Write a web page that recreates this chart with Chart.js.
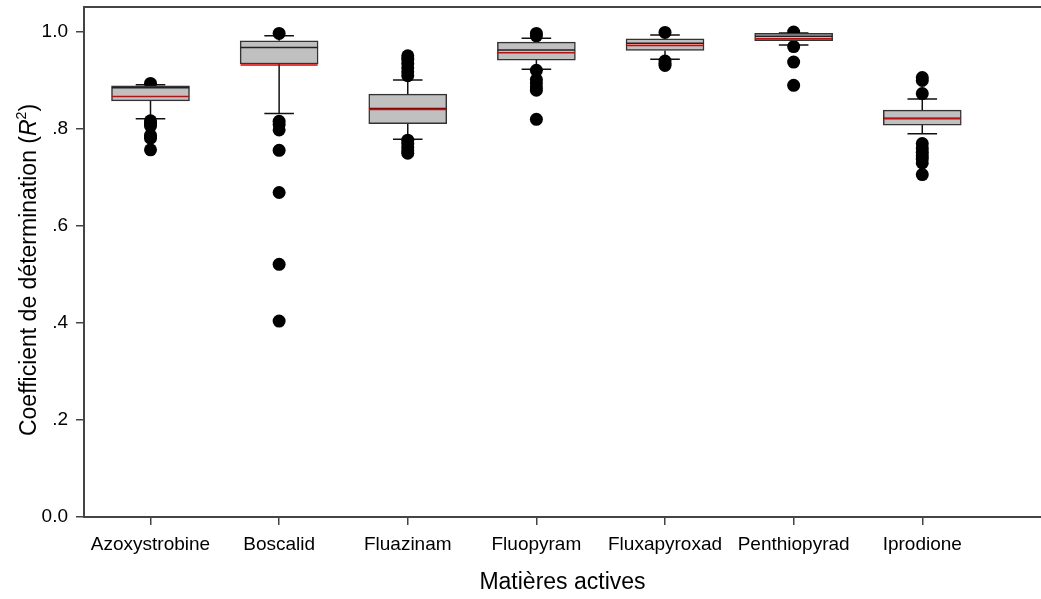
<!DOCTYPE html>
<html>
<head>
<meta charset="utf-8">
<script src="https://cdn.jsdelivr.net/npm/chart.js@4.4.0/dist/chart.umd.min.js"></script>
<style>
  html, body { margin: 0; padding: 0; background: #fff; }
  #wrap { width: 1041px; height: 599px; }
</style>
</head>
<body>
<div id="wrap"><canvas id="myChart"></canvas></div>
<script>
// données
const categories = ['Azoxystrobine', 'Boscalid', 'Fluazinam', 'Fluopyram', 'Fluxapyroxad', 'Penthiopyrad', 'Iprodione'];
const q1 = [0.858, 0.934, 0.811, 0.942, 0.962, 0.982, 0.808];
const q3 = [0.889, 0.982, 0.872, 0.979, 0.986, 0.997, 0.839];
const medians = [0.885, 0.968, 0.842, 0.963, 0.977, 0.991, 0.822];
const means = [0.867, 0.932, 0.840, 0.957, 0.972, 0.986, 0.821];
const whiskerLow = [0.821, 0.832, 0.779, 0.923, 0.944, 0.973, 0.790];
const whiskerHigh = [0.891, 0.992, 0.901, 0.987, 0.994, 0.998, 0.862];
const outliers = [
  [0.894, 0.817, 0.812, 0.806, 0.787, 0.781, 0.757],
  [0.997, 0.816, 0.809, 0.798, 0.756, 0.669, 0.521, 0.404],
  [0.951, 0.944, 0.935, 0.926, 0.918, 0.910, 0.777, 0.770, 0.762, 0.755, 0.750],
  [0.997, 0.992, 0.921, 0.902, 0.895, 0.887, 0.880, 0.820],
  [0.999, 0.940, 0.935, 0.931],
  [1.000, 0.970, 0.938, 0.890],
  [0.906, 0.900, 0.873, 0.770, 0.760, 0.752, 0.745, 0.738, 0.730, 0.706]
];
const yTicks = [0, 0.2, 0.4, 0.6, 0.8, 1.0];
const yTickLabels = ['0.0', '.2', '.4', '.6', '.8', '1.0'];

const boxData = categories.map((c, i) => ({x: i, y: [q1[i], q3[i]]}));
const pointData = [];
outliers.forEach((list, i) => list.forEach(v => pointData.push({x: i, y: v})));

const axisColor = '#444';
const fontFamily = "'Liberation Sans', Arial, sans-serif";

// moustaches, médianes, moyennes, cadre et titre Y
const boxExtras = {
  id: 'boxExtras',
  beforeDatasetsDraw(chart) {
    const {ctx, scales: {x, y}} = chart;
    ctx.save();
    ctx.strokeStyle = '#111';
    ctx.lineWidth = 1.5;
    for (let i = 0; i < categories.length; i++) {
      const cx = x.getPixelForValue(i);
      const half = x.getPixelForValue(i + 0.115) - cx;
      ctx.beginPath();
      ctx.moveTo(cx, y.getPixelForValue(q1[i]));
      ctx.lineTo(cx, y.getPixelForValue(whiskerLow[i]));
      ctx.moveTo(cx, y.getPixelForValue(q3[i]));
      ctx.lineTo(cx, y.getPixelForValue(whiskerHigh[i]));
      ctx.moveTo(cx - half, y.getPixelForValue(whiskerLow[i]));
      ctx.lineTo(cx + half, y.getPixelForValue(whiskerLow[i]));
      ctx.moveTo(cx - half, y.getPixelForValue(whiskerHigh[i]));
      ctx.lineTo(cx + half, y.getPixelForValue(whiskerHigh[i]));
      ctx.stroke();
    }
    ctx.restore();
  },
  afterDatasetDraw(chart, args) {
    if (args.index !== 0) return;
    const {ctx, scales: {x, y}} = chart;
    ctx.save();
    ctx.lineWidth = 1.5;
    for (let i = 0; i < categories.length; i++) {
      const x0 = x.getPixelForValue(i - 0.3);
      const x1 = x.getPixelForValue(i + 0.3);
      ctx.strokeStyle = '#222';
      ctx.beginPath();
      ctx.moveTo(x0, y.getPixelForValue(medians[i]));
      ctx.lineTo(x1, y.getPixelForValue(medians[i]));
      ctx.stroke();
      ctx.strokeStyle = '#e00000';
      ctx.beginPath();
      ctx.moveTo(x0, y.getPixelForValue(means[i]));
      ctx.lineTo(x1, y.getPixelForValue(means[i]));
      ctx.stroke();
    }
    ctx.restore();
  },
  afterDraw(chart) {
    const {ctx, chartArea} = chart;
    ctx.save();
    // cadre du haut
    ctx.strokeStyle = axisColor;
    ctx.lineWidth = 2;
    ctx.beginPath();
    ctx.moveTo(chartArea.left, chartArea.top);
    ctx.lineTo(chartArea.right, chartArea.top);
    ctx.stroke();

    // titre de l'axe Y avec R en italique et exposant
    const parts = [
      {t: 'Coefficient de détermination (', f: '23px ' + fontFamily, dy: 0},
      {t: 'R', f: 'italic 23px ' + fontFamily, dy: 0},
      {t: '2', f: '14px ' + fontFamily, dy: -8},
      {t: ')', f: '23px ' + fontFamily, dy: 0}
    ];
    let total = 0;
    parts.forEach(p => { ctx.font = p.f; p.w = ctx.measureText(p.t).width; total += p.w; });
    ctx.translate(30, (chartArea.top + chartArea.bottom) / 2 + 8);
    ctx.rotate(-Math.PI / 2);
    ctx.fillStyle = '#000';
    ctx.textBaseline = 'middle';
    let px = -total / 2;
    parts.forEach(p => {
      ctx.font = p.f;
      ctx.fillText(p.t, px, p.dy);
      px += p.w;
    });
    ctx.restore();
  }
};

const ctx = document.getElementById('myChart').getContext('2d');
const chart = new Chart(ctx, {
  data: {
    datasets: [
      {
        type: 'bar',
        data: boxData,
        backgroundColor: '#c0c0c0',
        borderColor: '#333',
        borderWidth: 1.5,
        borderSkipped: false,
        barThickness: 78
      },
      {
        type: 'scatter',
        data: pointData,
        pointRadius: 6.5,
        backgroundColor: '#000',
        borderWidth: 0
      }
    ]
  },
  options: {
    responsive: true,
    maintainAspectRatio: false,
    animation: false,
    layout: {autoPadding: false, padding: {left: 0, right: 0, top: 7, bottom: 0}},
    plugins: {legend: {display: false}, tooltip: {enabled: false}},
    scales: {
      x: {
        type: 'linear',
        offset: false,
        min: -0.517,
        max: 6.923,
        afterBuildTicks: (scale) => { scale.ticks = categories.map((c, i) => ({value: i})); },
        afterFit: (scale) => {
          scale.height = 82;
          scale.paddingLeft = 0;
          scale.paddingRight = 0;
        },
        ticks: {
          callback: (v) => categories[v],
          color: '#000',
          font: {family: fontFamily, size: 19},
          padding: 8,
          maxRotation: 0,
          autoSkip: false
        },
        grid: {display: true, offset: false, drawOnChartArea: false, drawTicks: true, tickLength: 8, color: axisColor, lineWidth: 1.5},
        border: {display: true, color: axisColor, width: 2},
        title: {
          display: true,
          text: 'Matières actives',
          color: '#000',
          font: {family: fontFamily, size: 23},
          padding: {top: 0, bottom: 3}
        }
      },
      y: {
        type: 'linear',
        min: 0,
        max: 1.0515,
        afterBuildTicks: (scale) => { scale.ticks = yTicks.map(v => ({value: v})); },
        afterFit: (scale) => {
          scale.width = 84;
          scale.paddingTop = 0;
          scale.paddingBottom = 0;
        },
        ticks: {
          callback: (v) => yTickLabels[yTicks.indexOf(v)],
          color: '#000',
          font: {family: fontFamily, size: 19},
          padding: 8
        },
        grid: {display: true, drawOnChartArea: false, drawTicks: true, tickLength: 8, color: axisColor, lineWidth: 1.5},
        border: {display: true, color: axisColor, width: 2}
      }
    }
  },
  plugins: [boxExtras]
});
</script>
</body>
</html>
